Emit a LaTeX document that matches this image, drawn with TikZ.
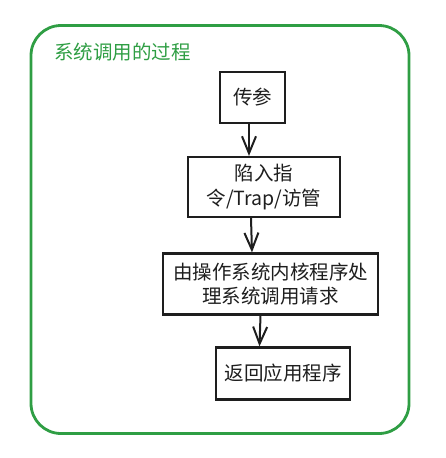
\documentclass[tikz,border=0pt]{standalone}
\usepackage{fontspec}
\setmainfont{Noto Sans CJK SC}
\usetikzlibrary{arrows.meta,calc}
\definecolor{exgreen}{HTML}{2F9E44}
\definecolor{exink}{HTML}{1E1E1E}
\tikzset{
  stepbox/.style={draw=exink,line width=2.2pt,fill=white,inner sep=0pt,align=center,
    font=\fontsize{19.5}{24.5}\selectfont,text=exink},
  arr/.style={draw=exink,line width=2pt,-{Straight Barb[length=17pt,width=14pt,line width=2pt]}},
}
\begin{document}
\begin{tikzpicture}[x=1pt,y=-1pt]
\useasboundingbox (0,0) rectangle (445,458);
\node[draw=exgreen,line width=2.8pt,rounded corners=30pt,minimum width=378pt,minimum height=408pt,inner sep=0pt] (frame) at (220,229.5) {};
\node[anchor=west,text=exgreen,font=\fontsize{19.5}{22}\selectfont,inner sep=0pt] (title) at (54,52) {系统调用的过程};
\node[stepbox,minimum width=65pt,minimum height=51pt] (b1) at (252.5,97.5) {传参};
\node[stepbox,minimum width=152pt,minimum height=60pt] (b2) at (264,187) {陷入指\\令/Trap/访管};
\node[stepbox,minimum width=215pt,minimum height=61pt] (b3) at (270.5,284) {由操作系统内核程序处\\理系统调用请求};
\node[stepbox,minimum width=134pt,minimum height=52pt] (b4) at (283,373.5) {返回应用程序};
\draw[arr] ([xshift=-3.5pt]b1.south) -- ([xshift=-3.5pt]b1.south |- b2.north);
\draw[arr] ([xshift=-13pt]b2.south) -- ([xshift=-12pt]b2.south |- b3.north);
\draw[arr] ([xshift=-10pt]b3.south) -- ([xshift=-11pt]b3.south |- b4.north);
\end{tikzpicture}
\end{document}
